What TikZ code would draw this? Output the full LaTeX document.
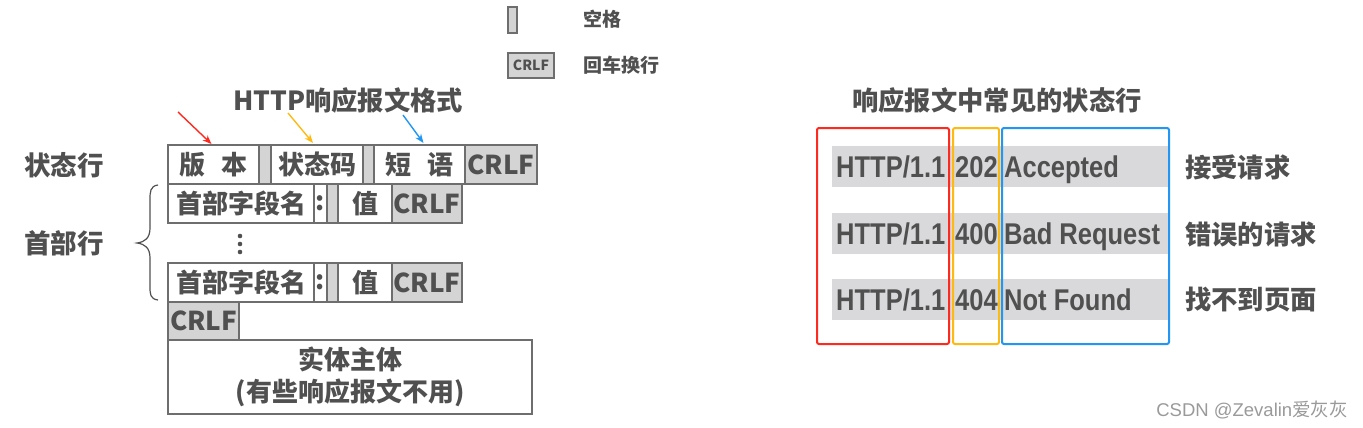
\documentclass[tikz,border=0pt]{standalone}
\usepackage{fontspec}
\setmainfont{Noto Sans CJK SC}
\newfontfamily\lat[FakeStretch=0.85]{Liberation Sans}
\newfontfamily\wmlat{Liberation Sans}
\usetikzlibrary{arrows.meta}
\definecolor{txt}{HTML}{505050}
\definecolor{bd}{HTML}{6E6E6E}
\definecolor{gf}{HTML}{D4D4D4}
\definecolor{band}{HTML}{D9D9DB}
\definecolor{rd}{HTML}{FF2A1F}
\definecolor{og}{HTML}{FFBA12}
\definecolor{bl}{HTML}{2196F3}
\definecolor{wmc}{HTML}{9A9A9A}
\tikzset{
  cell/.style={draw=bd, line width=1.1pt, fill=white, inner sep=0pt, outer sep=0pt, anchor=north west,
     text=txt, font=\bfseries\fontsize{26}{32}\selectfont},
  gcell/.style={cell, fill=gf},
  lbl/.style={text=txt, font=\bfseries\fontsize{26.5}{30}\selectfont, inner sep=0pt},
  ttl/.style={text=txt, font=\bfseries\fontsize{26.3}{30}\selectfont, inner sep=0pt},
  bandbox/.style={fill=band, draw=none, inner sep=0pt, anchor=north west, minimum width=336, minimum height=41},
  stxt/.style={text=txt, font=\lat\bfseries\fontsize{30}{34}\selectfont, inner sep=0pt, anchor=base west},
  rlbl/.style={text=txt, font=\bfseries\fontsize{26.3}{30}\selectfont, inner sep=0pt, anchor=west},
  frame/.style={line width=2pt, rounded corners=2pt, inner sep=0pt, anchor=north west, minimum height=216},
  arr/.style={line width=1.4pt, -{Stealth[length=9pt,width=7pt]}},
}
\begin{document}
\begin{tikzpicture}[x=1pt,y=-1pt]
\useasboundingbox[fill=white] (0,0) rectangle (1363,428);
% legend
\node[gcell, minimum width=9, minimum height=26] (lg1) at (508,7) {};
\node[lbl, font=\bfseries\fontsize{19}{22}\selectfont, anchor=west] (lgt1) at (583,19) {空格};
\node[gcell, minimum width=46, minimum height=25, font=\bfseries\fontsize{14}{16}\selectfont] (lg2) at (508,53) {CRLF};
\node[lbl, font=\bfseries\fontsize{19}{22}\selectfont, anchor=west] (lgt2) at (583,65) {回车换行};
% title left
\node[ttl] (t1) at (348,100) {HTTP响应报文格式};
% status line
\node[cell, minimum width=91, minimum height=39] (ver) at (168,145) {版\hspace{0.6em}本};
\node[gcell, minimum width=12, minimum height=39] (sp1) at (259,145) {};
\node[cell, minimum width=92, minimum height=39] (code) at (271,145) {状态码};
\node[gcell, minimum width=11, minimum height=39] (sp2) at (363,145) {};
\node[cell, minimum width=91, minimum height=39] (phr) at (374,145) {短\hspace{0.6em}语};
\node[gcell, minimum width=72, minimum height=39] (crlf1) at (465,145) {CRLF};
% header row 1
\node[cell, minimum width=146, minimum height=39] (hn1) at (168,184) {首部字段名};
\node[cell, minimum width=13, minimum height=39] (col1) at (314,184) {:};
\node[gcell, minimum width=11, minimum height=39] (sp3) at (327,184) {};
\node[cell, minimum width=54, minimum height=39] (val1) at (338,184) {值};
\node[gcell, minimum width=70, minimum height=39] (crlf2) at (392,184) {CRLF};
% dots
\fill[txt] (240,236) circle (2.3) (240,244) circle (2.3) (240,252) circle (2.3);
% header row 2
\node[cell, minimum width=146, minimum height=39] (hn2) at (168,263) {首部字段名};
\node[cell, minimum width=13, minimum height=39] (col2) at (314,263) {:};
\node[gcell, minimum width=11, minimum height=39] (sp4) at (327,263) {};
\node[cell, minimum width=54, minimum height=39] (val2) at (338,263) {值};
\node[gcell, minimum width=70, minimum height=39] (crlf3) at (392,263) {CRLF};
% empty line
\node[gcell, minimum width=71, minimum height=38] (crlf4) at (168,302) {CRLF};
% body
\node[cell, minimum width=364, minimum height=74, align=center] (body) at (168,340) {实体主体\\(有些响应报文不用)};
% labels
\node[lbl] (l1) at (64,165) {状态行};
\node[lbl] (l2) at (64,243) {首部行};
% brace
\draw[txt, line width=1.2pt] (158,185) .. controls (150,186) and (150,192) .. (150,200)
  -- (150,228) .. controls (150,238) and (145,242) .. (137,243)
  .. controls (145,244) and (150,248) .. (150,258) -- (150,286)
  .. controls (150,294) and (150,299) .. (158,300);
% arrows
\coordinate (ra) at (178,112);
\coordinate (oa) at (288,113);
\coordinate (ba) at (403,115);
\draw[arr, rd] (ra) -- ([xshift=-2pt,yshift=1pt]ver.north);
\draw[arr, og] (oa) -- ([xshift=-4pt,yshift=2pt]code.north);
\draw[arr, bl] (ba) -- ([xshift=4pt,yshift=2pt]phr.north);
% right title
\node[ttl] (t2) at (997,100) {响应报文中常见的状态行};
% bands
\node[bandbox] (b1) at (832,146) {};
\node[bandbox] (b2) at (832,213) {};
\node[bandbox] (b3) at (832,279) {};
\foreach \b/\c/\p in {b1/202/Accepted, b2/400/Bad Request, b3/404/Not Found}{
  \node[stxt] (\b v) at ([xshift=4pt,yshift=-31pt]\b.north west) {HTTP/1.1};
  \node[stxt] (\b c) at ([xshift=123pt,yshift=-31pt]\b.north west) {\c};
  \node[stxt] (\b p) at ([xshift=172pt,yshift=-31pt]\b.north west) {\p};
}
\node[rlbl] (r1) at (1185,167) {接受请求};
\node[rlbl] (r2) at (1185,234) {错误的请求};
\node[rlbl] (r3) at (1185,300) {找不到页面};
% frames
\node[frame, draw=rd, minimum width=132] (fr) at (816,127) {};
\node[frame, draw=og, minimum width=46] (fo) at (952,127) {};
\node[frame, draw=bl, minimum width=167] (fb) at (1001,127) {};
% watermark
\node[text=wmc, font=\fontsize{18.5}{20}\selectfont, anchor=east, inner sep=0pt] (wm) at (1348,410) {{\wmlat CSDN @Zevalin}爱灰灰};
\end{tikzpicture}
\end{document}
